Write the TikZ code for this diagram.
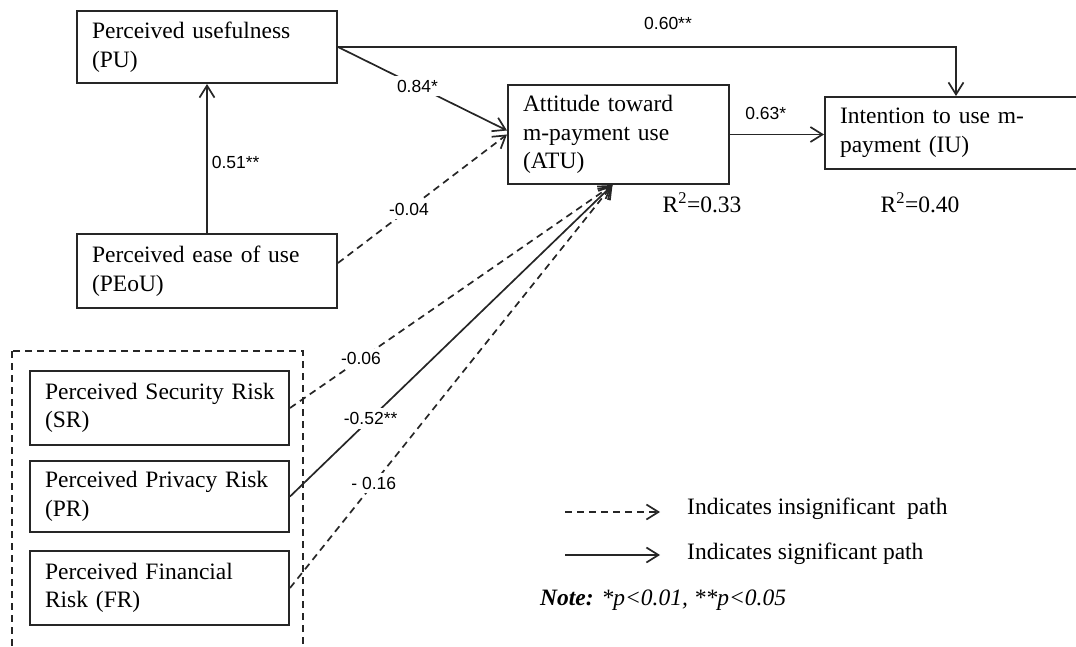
\documentclass[tikz,border=0pt]{standalone}
\usepackage{fontspec}
\setmainfont{Liberation Serif}
\newfontfamily\coeffont{Liberation Sans}
\usetikzlibrary{arrows.meta}

\tikzset{
    construct/.style={draw=black!85, line width=2pt, align=left, inner xsep=15pt, inner ysep=0pt,
        font=\fontsize{23.5}{28.5}\selectfont},
    sig/.style={line width=1.7pt, draw=black!85, -{Straight Barb[length=12pt, width=15pt]}},
    insig/.style={sig, dash pattern=on 7pt off 5pt},
    coef/.style={font=\coeffont\fontsize{17.5}{20}\selectfont, fill=white, inner sep=4pt},
    legtext/.style={anchor=west, inner sep=0pt, font=\fontsize{23.5}{28.5}\selectfont}
}

\begin{document}
\begin{tikzpicture}[x=1pt, y=-1pt]
    \clip (0,0) rectangle (1076,647);

    % TAM constructs
    \node[construct, text width=230pt, minimum height=72pt] (PU) at (207,47) {Perceived usefulness\\(PU)};
    \node[construct, text width=230pt, minimum height=74pt] (PEoU) at (207,271) {Perceived ease of use\\(PEoU)};
    \node[construct, text width=191pt, minimum height=99pt] (ATU) at (618.5,134.5) {Attitude toward\\m-payment use\\(ATU)};
    \node[construct, text width=232pt, minimum height=72pt] (IU) at (956,133) {Intention to use m-\\payment (IU)};

    % Risk group
    \draw[black!85, line width=1.7pt, dash pattern=on 7pt off 5pt] (12,351) rectangle (303,670);
    \node[construct, text width=229pt, minimum height=74pt] (SR) at (159.5,408) {\mbox{Perceived Security Risk}\\(SR)};
    \node[construct, text width=229pt, minimum height=71pt] (PR) at (159.5,496.5) {\mbox{Perceived Privacy Risk}\\(PR)};
    \node[construct, text width=229pt, minimum height=74pt] (FR) at (159.5,588) {Perceived Financial\\Risk (FR)};

    % Paths
    \draw[sig] (PEoU.north) -- node[coef, fill=none, pos=0.47, right] {0.51**} (PU.south);
    \draw[sig] (PU.east) -- node[coef, pos=0.47] {0.84*} ([yshift=4pt]ATU.west);
    \draw[insig] ([yshift=8pt]PEoU.east) -- node[coef, pos=0.42] {-0.04} (ATU.west);
    \draw[sig] (PU.east) -| node[coef, fill=none, pos=0.267, above=12pt] {0.60**} (IU.north);
    \draw[sig] (ATU.east) -- node[coef, fill=none, pos=0.38, above=10pt] {0.63*} (ATU.east -| IU.west);

    % Risk paths
    \draw[insig] (SR.east) -- node[coef, pos=0.22] {-0.06} ([xshift=-6pt]ATU.south);
    \draw[sig] (PR.east) -- node[coef, pos=0.25] {-0.52**} ([xshift=-6pt]ATU.south);
    \draw[insig] (FR.east) -- node[coef, pos=0.26] {- 0.16} ([xshift=-6pt]ATU.south);

    % R squared
    \node[legtext, anchor=center] (r2ATU) at (702,203) {R\textsuperscript{2}=0.33};
    \node[legtext, anchor=center] (r2IU) at (920,203) {R\textsuperscript{2}=0.40};

    % Legend
    \coordinate (lgInsA) at (565,512);
    \coordinate (lgInsB) at (660,512);
    \coordinate (lgSigA) at (565,555);
    \coordinate (lgSigB) at (660,555);
    \draw[insig] (lgInsA) -- (lgInsB);
    \draw[sig] (lgSigA) -- (lgSigB);
    \node[legtext] (lgIns) at (687,509) {Indicates insignificant~ path};
    \node[legtext] (lgSig) at (687,554) {Indicates significant path};
    \node[legtext] (note) at (540,600) {\textbf{\textit{Note:}} \textit{*p<0.01, **p<0.05}};
\end{tikzpicture}
\end{document}
